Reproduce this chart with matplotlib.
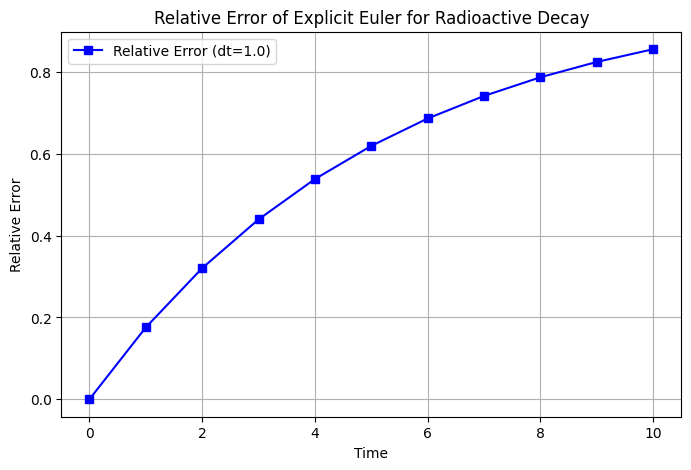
import matplotlib

matplotlib.use("Agg")
import matplotlib.pyplot as plt

# relative error of explicit Euler vs exact decay
times = [0, 1, 2, 3, 4, 5, 6, 7, 8, 9, 10]
rel_error = [0.0, 0.1756, 0.3204, 0.4395, 0.5382, 0.6192,
             0.6862, 0.7413, 0.7869, 0.8244, 0.8555]

fig, ax = plt.subplots(figsize=(8, 5), dpi=100)
ax.plot(times, rel_error, marker="s", color="blue", label="Relative Error (dt=1.0)")
ax.set_xlabel("Time")
ax.set_ylabel("Relative Error")
ax.set_title("Relative Error of Explicit Euler for Radioactive Decay")
ax.legend(loc="upper left")
ax.grid(True)

fig.savefig("out.png", bbox_inches="tight")
